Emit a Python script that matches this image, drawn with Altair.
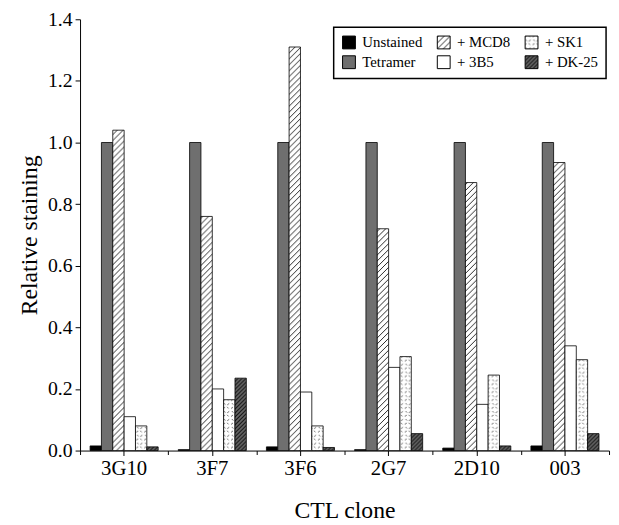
import altair as alt
import pandas as pd
from altair.utils import html as alt_html

clones = ["3G10", "3F7", "3F6", "2G7", "2D10", "003"]
series = ["Unstained", "Tetramer", "+ MCD8", "+ 3B5", "+ SK1", "+ DK-25"]
unstained = [0.015, 0.003, 0.012, 0.003, 0.008, 0.015]
tetramer = [1.0, 1.0, 1.0, 1.0, 1.0, 1.0]
mcd8 = [1.04, 0.76, 1.31, 0.72, 0.87, 0.935]
ab3b5 = [0.11, 0.20, 0.19, 0.27, 0.15, 0.34]
sk1 = [0.08, 0.165, 0.08, 0.305, 0.245, 0.295]
dk25 = [0.012, 0.235, 0.01, 0.055, 0.015, 0.055]
y_ticks = [round(i * 0.1, 1) for i in range(15)]

values = [unstained, tetramer, mcd8, ab3b5, sk1, dk25]
rows = []
for s, vals in zip(series, values):
    for c, v in zip(clones, vals):
        rows.append({"clone": c, "series": s, "value": v})
df = pd.DataFrame(rows)

fills = {
    "Unstained": "#000000",
    "Tetramer": "#6f6f6f",
    "+ MCD8": "url(#pMCD8) #dddddd",
    "+ 3B5": "#ffffff",
    "+ SK1": "url(#pSK1) #eeeeee",
    "+ DK-25": "url(#pDK25) #555555",
}

FONT = "Liberation Serif"

x_main = alt.X(
    "clone:N",
    sort=clones,
    scale=alt.Scale(paddingInner=0, paddingOuter=0),
    axis=alt.Axis(
        title="CTL clone", labelAngle=0, labelFontSize=21, titleFontSize=24,
        tickSize=5, labelPadding=2, titlePadding=21, orient="bottom",
    ),
)
x_minor = alt.X(
    "clone:N",
    sort=clones,
    axis=alt.Axis(
        title=None, labels=False, domain=False, ticks=True, tickBand="extent",
        tickSize=4, orient="bottom",
    ),
)
x_off = alt.XOffset("series:N", sort=series,
                    scale=alt.Scale(paddingInner=0, paddingOuter=0.885))
y_enc = alt.Y(
    "value:Q",
    scale=alt.Scale(domain=[0, 1.4], nice=False),
    axis=alt.Axis(
        values=y_ticks,
        title="Relative staining",
        labelExpr="round(datum.value*10) % 2 == 0 ? format(datum.value, '.1f') : ''",
        tickSize={"condition": {"test": "round(datum.value*10) % 2 == 1", "value": 3}, "value": 5},
        labelFontSize=20, titleFontSize=24, labelPadding=3, titlePadding=6,
    ),
)
color = alt.Color(
    "series:N",
    scale=alt.Scale(domain=series, range=[fills[s] for s in series]),
    legend=alt.Legend(
        title=None, orient="none", legendX=257, legendY=8, columns=3,
        symbolType="square", symbolSize=169, symbolStrokeColor="black",
        symbolStrokeWidth=1, labelFontSize=15, labelFont=FONT, labelColor="black",
        columnPadding=13, rowPadding=3, labelOffset=6, padding=8,
        strokeColor="black", fillColor="white",
    ),
)

bars = alt.Chart(df).mark_bar(stroke="black", strokeWidth=0.8).encode(
    x=x_main, xOffset=x_off, y=y_enc, color=color
)
minor = alt.Chart(df).mark_bar(opacity=0).encode(
    x=x_minor, xOffset=x_off, y=alt.Y("value:Q")
)

chart = alt.layer(bars, minor).resolve_axis(x="independent").properties(
    width=536, height=437,
    autosize=alt.AutoSizeParams(type="none"),
    padding={"left": 73, "top": 8, "right": 2, "bottom": 72},
).configure_view(stroke=None).configure_axis(
    grid=False, domainColor="black", tickColor="black", labelColor="black",
    titleColor="black", labelFont=FONT, titleFont=FONT, titleFontWeight="normal",
    domainWidth=1, tickWidth=1,
).configure_legend(strokeWidth=1.5, cornerRadius=0)

DEFS = """<svg width="0" height="0" style="position:absolute;left:0;top:0">
<defs>
<pattern id="pMCD8" patternUnits="userSpaceOnUse" width="6" height="6">
<rect width="6" height="6" fill="#ffffff"/>
<path d="M-1,1 l2,-2 M0,6 l6,-6 M5,7 l2,-2" stroke="#2a2a2a" stroke-width="1"/>
</pattern>
<pattern id="pSK1" patternUnits="userSpaceOnUse" width="8" height="8">
<rect width="8" height="8" fill="#ffffff"/>
<path d="M1,2.5 l2,-1.5 M5,0.8 l1.5,1.6 M1.8,5 l1.5,1.6 M5.2,6.8 l2,-1.5" stroke="#555555" stroke-width="0.9" fill="none"/>
</pattern>
<pattern id="pDK25" patternUnits="userSpaceOnUse" width="4" height="4">
<rect width="4" height="4" fill="#6a6a6a"/>
<path d="M-1,1 l2,-2 M0,4 l4,-4 M3,5 l2,-2" stroke="#111111" stroke-width="1.2"/>
</pattern>
</defs>
</svg>
"""


class PatternTemplate:
    def __init__(self, base):
        self.base = base

    def render(self, **kw):
        page = self.base.render(**kw)
        if "<body>" in page:
            return page.replace("<body>", "<body>\n" + DEFS, 1)
        return DEFS + page


template = PatternTemplate(alt_html.TEMPLATES["standard"])

chart.save("out.html", embed_options={"renderer": "svg", "actions": False}, template=template)
